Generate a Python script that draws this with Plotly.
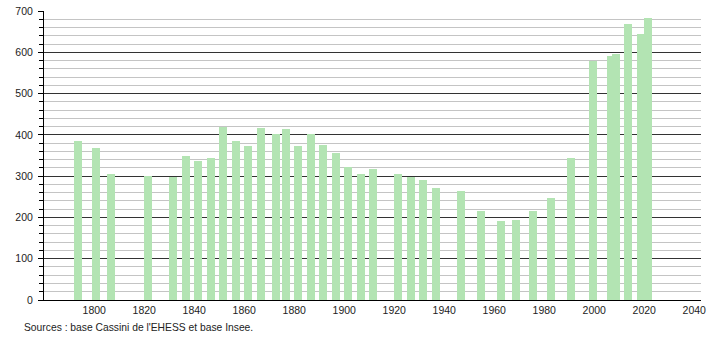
import plotly.graph_objects as go

years = [1793, 1800, 1806, 1821, 1831, 1836, 1841, 1846, 1851, 1856, 1861, 1866,
         1872, 1876, 1881, 1886, 1891, 1896, 1901, 1906, 1911, 1921, 1926, 1931,
         1936, 1946, 1954, 1962, 1968, 1975, 1982, 1990, 1999, 2006, 2008, 2013,
         2018, 2021]
population = [384, 368, 305, 300, 298, 350, 336, 344, 419, 385, 373, 416,
              402, 413, 373, 402, 376, 356, 323, 305, 317, 305, 299, 290,
              272, 264, 215, 191, 194, 215, 248, 344, 578, 590, 595, 669,
              644, 682]
x_tick_years = [1800, 1820, 1840, 1860, 1880, 1900, 1920, 1940, 1960, 1980, 2000, 2020, 2040]
source_text = "Sources : base Cassini de l'EHESS et base Insee."

font_family = "Liberation Sans, Arial, sans-serif"

fig = go.Figure()
fig.add_trace(go.Bar(
    x=[y + 0.5 for y in years],
    y=population,
    width=3.2,
    marker=dict(color="#b3e4b3", line=dict(width=0)),
    hoverinfo="x+y",
))

fig.update_layout(
    width=710, height=340,
    margin=dict(l=44, r=9, t=11, b=40, autoexpand=False),
    paper_bgcolor="white", plot_bgcolor="white",
    showlegend=False,
    font=dict(family=font_family, size=11, color="#222"),
    bargap=0,
    xaxis=dict(
        range=[1779.9, 2042.7],
        tickmode="array", tickvals=x_tick_years,
        ticktext=[str(v) for v in x_tick_years],
        showgrid=False, zeroline=False, automargin=False,
        showline=True, linecolor="#000", linewidth=1,
        ticks="", ticklen=0,
        tickfont=dict(family=font_family, size=10.5, color="#222"),
    ),
    yaxis=dict(
        range=[0, 700],
        tick0=0, dtick=100, automargin=False,
        showgrid=True, gridcolor="#333", gridwidth=1,
        zeroline=False,
        showline=True, linecolor="#000", linewidth=1,
        ticks="outside", ticklen=5, tickcolor="#000",
        ticklabelstandoff=3,
        tickfont=dict(family=font_family, size=10.5, color="#222"),
        minor=dict(dtick=20, showgrid=True, gridcolor="#c4c4c4", gridwidth=1,
                   ticks="outside", ticklen=4, tickcolor="#000"),
    ),
    annotations=[dict(
        text=source_text, xref="paper", yref="paper",
        x=-0.0335, y=-0.095, xanchor="left", yanchor="middle",
        showarrow=False, font=dict(family=font_family, size=10.3, color="#222"),
    )],
)

fig.write_html("out.html")
